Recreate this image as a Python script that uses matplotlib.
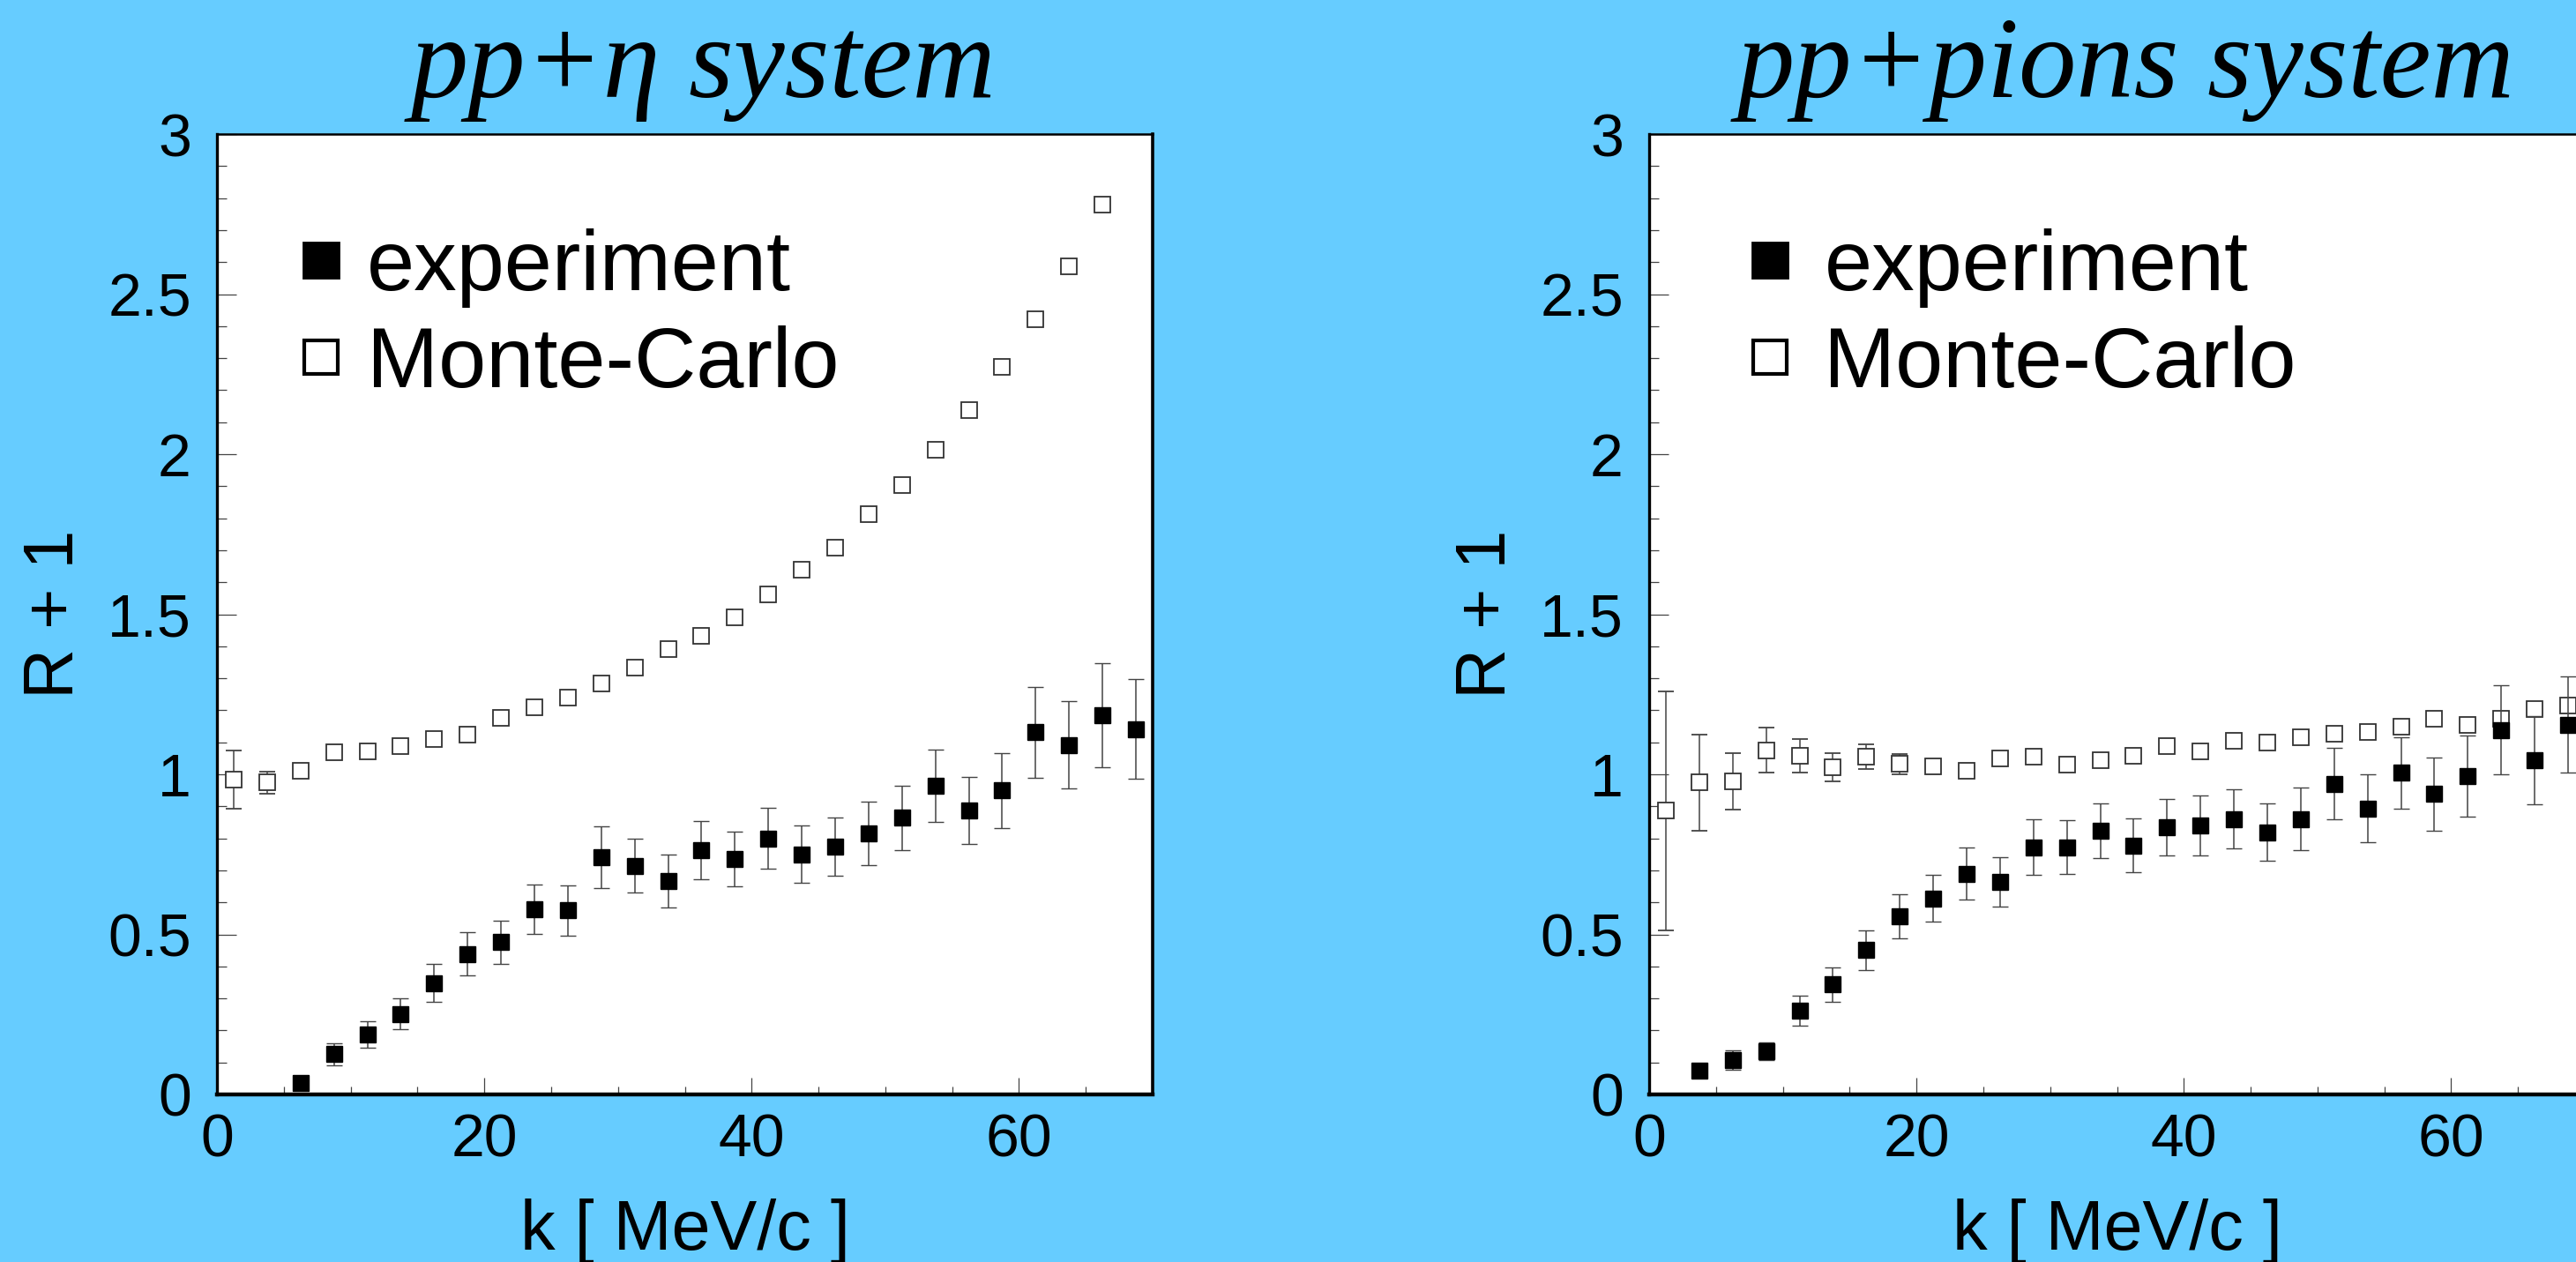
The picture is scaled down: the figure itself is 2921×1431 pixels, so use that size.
import matplotlib
matplotlib.use("Agg")
import matplotlib.pyplot as plt
from matplotlib.lines import Line2D
from matplotlib.ticker import MultipleLocator, FormatStrFormatter

plt.rcParams['font.family'] = ['Liberation Sans', 'DejaVu Sans']

# pp + eta system
k_eta_exp = [6.25, 8.75, 11.25, 13.75, 16.25, 18.75, 21.25, 23.75, 26.25, 28.75, 31.25, 33.75, 36.25,
             38.75, 41.25, 43.75, 46.25, 48.75, 51.25, 53.75, 56.25, 58.75, 61.25, 63.75, 66.25, 68.75]
r_eta_exp = [0.036, 0.126, 0.187, 0.251, 0.348, 0.439, 0.476, 0.579, 0.575, 0.742, 0.714, 0.666, 0.764,
             0.735, 0.800, 0.750, 0.775, 0.816, 0.864, 0.963, 0.887, 0.950, 1.131, 1.092, 1.184, 1.141]
e_eta_exp = [0.010, 0.035, 0.042, 0.048, 0.060, 0.067, 0.068, 0.078, 0.078, 0.096, 0.084, 0.083, 0.091,
             0.085, 0.095, 0.089, 0.091, 0.099, 0.100, 0.113, 0.105, 0.117, 0.142, 0.137, 0.162, 0.156]

k_eta_mc = [1.25, 3.75, 6.25, 8.75, 11.25, 13.75, 16.25, 18.75, 21.25, 23.75, 26.25, 28.75, 31.25, 33.75,
            36.25, 38.75, 41.25, 43.75, 46.25, 48.75, 51.25, 53.75, 56.25, 58.75, 61.25, 63.75, 66.25]
r_eta_mc = [0.983, 0.974, 1.011, 1.069, 1.072, 1.087, 1.110, 1.125, 1.177, 1.210, 1.239, 1.285, 1.333, 1.390,
            1.433, 1.490, 1.562, 1.638, 1.708, 1.813, 1.904, 2.014, 2.138, 2.274, 2.422, 2.587, 2.780]
e_eta_mc = [0.091, 0.035, 0.008, 0.006, 0.006, 0.006, 0.006, 0.006, 0.006, 0.006, 0.006, 0.006, 0.006, 0.006,
            0.006, 0.006, 0.006, 0.006, 0.006, 0.006, 0.006, 0.006, 0.006, 0.006, 0.006, 0.006, 0.006]

# pp + pions system
k_pi_exp = [3.75, 6.25, 8.75, 11.25, 13.75, 16.25, 18.75, 21.25, 23.75, 26.25, 28.75, 31.25, 33.75, 36.25,
            38.75, 41.25, 43.75, 46.25, 48.75, 51.25, 53.75, 56.25, 58.75, 61.25, 63.75, 66.25, 68.75]
r_pi_exp = [0.075, 0.108, 0.135, 0.261, 0.343, 0.451, 0.557, 0.612, 0.690, 0.665, 0.772, 0.772, 0.823, 0.778,
            0.835, 0.841, 0.860, 0.819, 0.860, 0.971, 0.893, 1.005, 0.939, 0.995, 1.139, 1.043, 1.155]
e_pi_exp = [0.010, 0.031, 0.028, 0.047, 0.053, 0.062, 0.069, 0.073, 0.082, 0.077, 0.087, 0.084, 0.086, 0.085,
            0.088, 0.094, 0.092, 0.090, 0.098, 0.111, 0.106, 0.112, 0.114, 0.126, 0.139, 0.138, 0.150]

k_pi_mc = [1.25, 3.75, 6.25, 8.75, 11.25, 13.75, 16.25, 18.75, 21.25, 23.75, 26.25, 28.75, 31.25, 33.75,
           36.25, 38.75, 41.25, 43.75, 46.25, 48.75, 51.25, 53.75, 56.25, 58.75, 61.25, 63.75, 66.25, 68.75]
r_pi_mc = [0.886, 0.974, 0.978, 1.075, 1.058, 1.021, 1.055, 1.032, 1.024, 1.010, 1.049, 1.054, 1.031, 1.045,
           1.058, 1.088, 1.073, 1.105, 1.100, 1.115, 1.128, 1.133, 1.150, 1.174, 1.154, 1.173, 1.204, 1.214]
e_pi_mc = [0.373, 0.150, 0.089, 0.070, 0.052, 0.044, 0.038, 0.032, 0.012, 0.006, 0.006, 0.006, 0.006, 0.006,
           0.006, 0.006, 0.006, 0.006, 0.006, 0.006, 0.006, 0.006, 0.006, 0.006, 0.006, 0.006, 0.006, 0.006]

titles = ["pp+\u03b7 system", "pp+pions system"]

BG = '#66CCFF'
W, H = 2921, 1431

fig = plt.figure(figsize=(W / 100, H / 100), dpi=100, facecolor=BG)
ax1 = fig.add_axes([246 / W, 190 / H, 1061 / W, 1089 / H])
ax2 = fig.add_axes([1870 / W, 190 / H, 1061 / W, 1089 / H])

panels = [(ax1, k_eta_exp, r_eta_exp, e_eta_exp, k_eta_mc, r_eta_mc, e_eta_mc, 0.092, 0.32, 0.52),
          (ax2, k_pi_exp, r_pi_exp, e_pi_exp, k_pi_mc, r_pi_mc, e_pi_mc, 0.110, 0.42, 0.509)]

for i, (ax, kx, rx, ex, km, rm, em, leg_x, leg_pad, title_x) in enumerate(panels):
    ax.set_facecolor('white')
    ax.errorbar(km, rm, yerr=em, fmt='s', ms=13, mfc='white', mec='#333333', mew=1.3,
                ecolor='#444444', elinewidth=1.1, capsize=6.5, capthick=1.1, zorder=3)
    ax.errorbar(kx, rx, yerr=ex, fmt='s', ms=13, mfc='black', mec='black', mew=1.0,
                ecolor='#444444', elinewidth=1.1, capsize=6.5, capthick=1.1, zorder=4)

    ax.set_xlim(0, 70)
    ax.set_ylim(0, 3)
    ax.xaxis.set_major_locator(MultipleLocator(20))
    ax.xaxis.set_minor_locator(MultipleLocator(5))
    ax.yaxis.set_major_locator(MultipleLocator(0.5))
    ax.yaxis.set_minor_locator(MultipleLocator(0.1))
    ax.yaxis.set_major_formatter(FormatStrFormatter('%g'))

    ax.tick_params(which='both', direction='in', top=False, right=False, color='#444444',
                   labelsize=49, width=0.9)
    ax.tick_params(axis='y', which='major', length=15.5, pad=21)
    ax.tick_params(axis='y', which='minor', length=8)
    ax.tick_params(axis='x', which='major', length=14, pad=15)
    ax.tick_params(axis='x', which='minor', length=6.5)

    ax.spines['left'].set_linewidth(2.4)
    ax.spines['bottom'].set_linewidth(3.2)
    ax.spines['top'].set_linewidth(1.8)
    ax.spines['right'].set_linewidth(2.6)

    ax.set_xlabel("k [ MeV/c ]", fontsize=57)
    ax.xaxis.set_label_coords(0.5, -0.108)
    ax.set_ylabel("R + 1", fontsize=57)
    ax.yaxis.set_label_coords(-0.138, 0.5)

    ax.text(title_x, 1.039, titles[i], transform=ax.transAxes, ha='center', va='baseline',
            fontsize=94, family='Liberation Serif', style='italic')

    handles = [Line2D([], [], ls='none', marker='s', ms=29.5, mfc='black', mec='black', mew=2),
               Line2D([], [], ls='none', marker='s', ms=28, mfc='white', mec='black', mew=3)]
    ax.legend(handles, ["experiment", "Monte-Carlo"], loc='upper left', bbox_to_anchor=(leg_x, 0.902),
              frameon=False, fontsize=70, borderpad=0, borderaxespad=0, handlelength=0.42,
              handletextpad=leg_pad, labelspacing=0.21)

fig.savefig("out.png", dpi=100, facecolor=BG)
